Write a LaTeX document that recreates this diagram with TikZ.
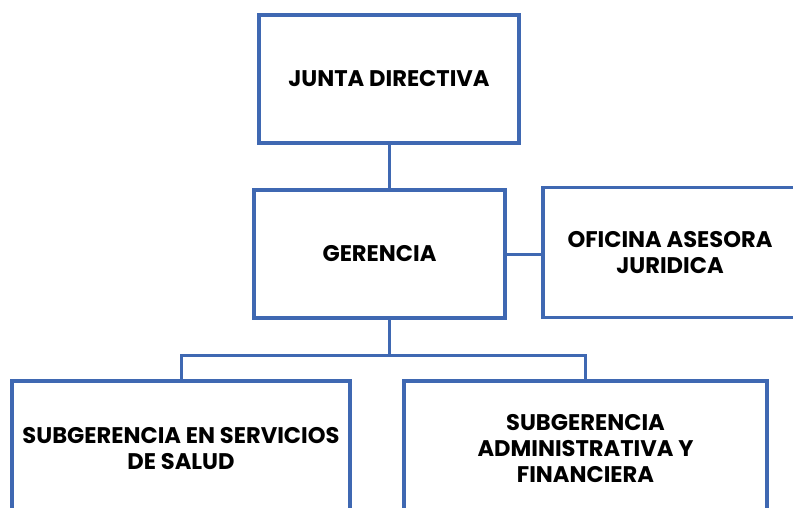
\documentclass[tikz,border=0pt]{standalone}
\usepackage{fontspec}
\setmainfont{Poppins}[BoldFont={Poppins Bold}]
\definecolor{boxblue}{RGB}{63,104,178}
\tikzset{
  orgbox/.style={draw=boxblue, line width=3.2pt, fill=white, rectangle, inner sep=0pt, align=center,
    font=\bfseries\fontsize{22.6}{26}\selectfont},
  link/.style={draw=boxblue, line width=3pt}
}
\begin{document}
\begin{tikzpicture}[x=1pt,y=1pt]
\useasboundingbox (0,0) rectangle (793,-508);
\node[orgbox, minimum width=260, minimum height=128] (junta) at (389,-79) {JUNTA DIRECTIVA};
\node[orgbox, minimum width=251, minimum height=128] (ger) at (379.5,-254) {GERENCIA};
\node[orgbox, minimum width=254, minimum height=130] (ofi) at (670,-252.5) {OFICINA ASESORA\\JURIDICA};
\node[orgbox, minimum width=338, minimum height=136] (sal) at (181,-449) {SUBGERENCIA EN SERVICIOS\\DE SALUD};
\node[orgbox, minimum width=363, minimum height=136] (adm) at (585.5,-449) {SUBGERENCIA\\ADMINISTRATIVA Y\\FINANCIERA};
\coordinate (bus) at (389,-355);
\draw[link] (junta.south -| 389,0) -- (ger.north -| 389,0);
\draw[link] (ger.east) -- (ger.east -| ofi.west);
\draw[link] (ger.south -| bus) -- (bus);
\draw[link] (sal.north) -- (sal.north |- bus) -- (adm.north |- bus) -- (adm.north);
\end{tikzpicture}
\end{document}
